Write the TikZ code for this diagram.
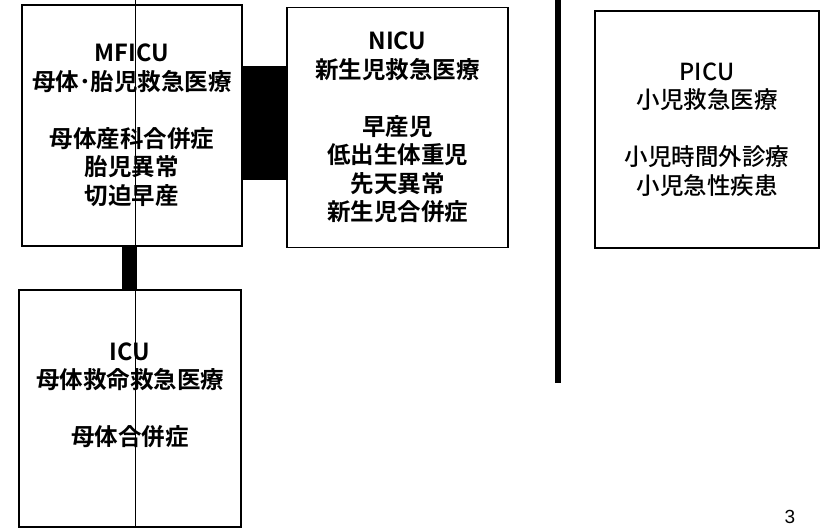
\documentclass[tikz,border=0pt]{standalone}
\usepackage{fontspec}
\setmainfont{Liberation Sans}
\newfontfamily\jp{Noto Sans CJK JP}[BoldFont={Noto Sans CJK JP Bold}]
\newfontfamily\jpmed{Noto Sans CJK JP Medium}

\begin{document}
\begin{tikzpicture}[x=1pt, y=-1pt, every text node part/.style={align=center},
    unit/.style={draw, line width=1.4pt, inner sep=0pt, font=\jp\bfseries\fontsize{23.5}{28.5}\selectfont},
    unitlight/.style={unit, font=\jpmed\fontsize{23.5}{28.5}\selectfont}]
        \useasboundingbox (0,0) rectangle (825,529);
        \node[unit, minimum width=220pt, minimum height=241pt] (mficu) at (132,125.5)
            {MFICU\\母体･胎児救急医療\\[28.5pt]母体産科合併症\\胎児異常\\切迫早産};
        \node[unit, minimum width=221pt, minimum height=240pt] (nicu) at (397.5,127.5)
            {NICU\\新生児救急医療\\[28.5pt]早産児\\低出生体重児\\先天異常\\新生児合併症};
        \node[unit, minimum width=222pt, minimum height=237pt] (icu) at (130,408.5)
            {ICU\\母体救命救急医療\\[28.5pt]母体合併症\\\mbox{}};
        \node[unitlight, minimum width=224pt, minimum height=237pt] (picu) at (707,129.5)
            {PICU\\小児救急医療\\[28.5pt]小児時間外診療\\小児急性疾患};
        \fill (mficu.east |- 0,66) rectangle (nicu.west |- 0,180);
        \fill (mficu.south -| 122,0) rectangle (icu.north -| 137,0);
        \coordinate (axis) at (135,0);
        \draw[line width=0.8pt] (axis) -- (axis |- icu.south);
        \coordinate (divtop) at (558,0);
        \draw[line width=6pt] (divtop) -- (558,383);
        \node[font=\fontsize{19}{21}\selectfont] (page) at (790,517) {3};
    \end{tikzpicture}
\end{document}
